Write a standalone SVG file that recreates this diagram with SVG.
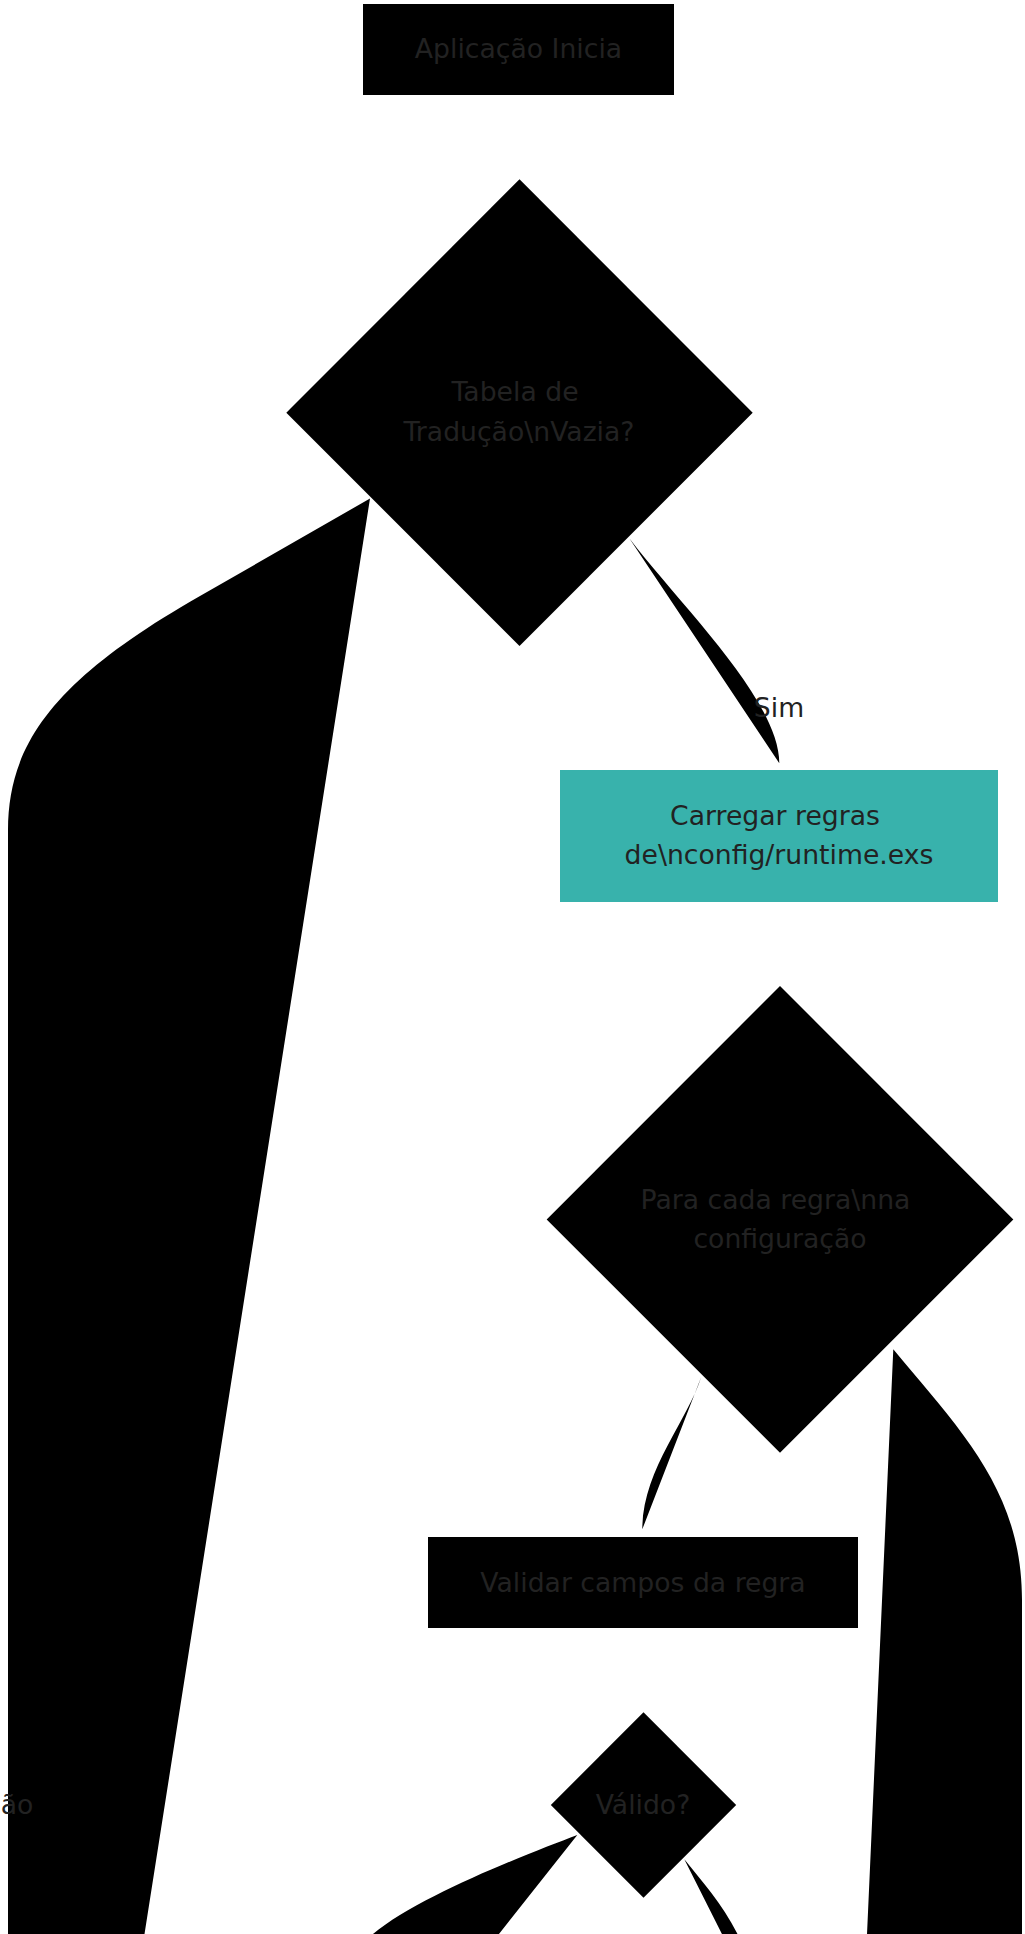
<svg xmlns="http://www.w3.org/2000/svg" width="1025" height="1934" viewBox="0 0 1025 1934">
<style>
  .node { fill: #000000; stroke: none; }
  .teal { fill: #38B2AC; stroke: none; }
  .edge { fill: #000000; stroke: none; }
  text { font-family: "DejaVu Sans", "Liberation Sans", sans-serif; font-size: 26.67px; fill: #222222; text-anchor: middle; }
</style>
<rect width="1025" height="1934" fill="#ffffff"/>
<g id="connectors">
  <path id="edge-vazia-nao" class="edge" d="M370,498.5 L200,596 C60,676 8,740 8,830 L8,1950 L142,1950 Z"/>
  <path id="edge-vazia-sim" class="edge" d="M629.3,538.3 C680,605 779.3,700 779.3,763.3 Z"/>
  <path id="edge-para-validar" class="edge" d="M701.3,1376.7 C688,1420 642.3,1470 642.3,1529.3 Z"/>
  <path id="edge-para-fim" class="edge" d="M893.3,1349.3 C960,1430 1022,1490 1022,1600 L1022,1950 L866.3,1950 Z"/>
  <path id="edge-valido-left" class="edge" d="M577.3,1835 C530,1853 420,1895 373,1934 L353.7,1950 L486.3,1950 Z"/>
  <path id="edge-valido-right" class="edge" d="M684.3,1859.3 C705,1885 728,1910 745,1950 L730,1950 Z"/>
</g>
<g id="edge-labels">
  <text x="779" y="717">Sim</text>
  <text x="7" y="1814">Não</text>
</g>
<g id="node-inicio">
  <rect class="node" x="363" y="4" width="311" height="91"/>
  <text x="518.5" y="58">Aplicação Inicia</text>
</g>
<g id="node-tabela-vazia">
  <polygon class="node" points="519.5,179.3 752.7,412.7 519.5,646 286.3,412.7"/>
  <text x="515" y="401">Tabela de</text>
  <text x="519" y="441">Tradução\nVazia?</text>
</g>
<g id="node-carregar">
  <rect class="teal" x="560" y="770" width="438" height="132"/>
  <text x="775" y="825">Carregar regras</text>
  <text x="779" y="864">de\nconfig/runtime.exs</text>
</g>
<g id="node-para-cada">
  <polygon class="node" points="780,986 1013.3,1219.5 780,1452.7 546.7,1219.5"/>
  <text x="775.5" y="1208.5">Para cada regra\nna</text>
  <text x="780" y="1247.5">configuração</text>
</g>
<g id="node-validar">
  <rect class="node" x="428" y="1537" width="430" height="91"/>
  <text x="643" y="1591.5">Validar campos da regra</text>
</g>
<g id="node-valido">
  <polygon class="node" points="643.5,1712.3 736.2,1805 643.5,1897.7 550.8,1805"/>
  <text x="643" y="1814">Válido?</text>
</g>
</svg>
